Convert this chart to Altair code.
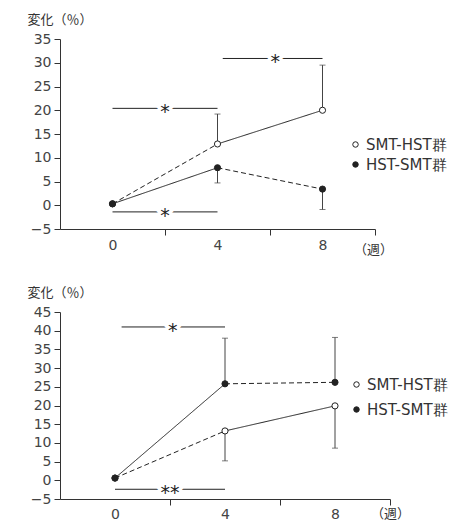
import altair as alt
import pandas as pd

weeks = [0, 4, 8]
series_names = ["SMT-HST群", "HST-SMT群"]

# ---- top panel ----
top_smt = [0.3, 12.9, 20.0]
top_hst = [0.3, 7.9, 3.4]
top_smt_err = [None, 19.2, 29.5]
top_hst_err = [None, 4.7, -0.9]
top_smt_dash = ["dashed", "solid"]
top_hst_dash = ["solid", "dashed"]
top_sig_x1 = [0, 4.2, 0]
top_sig_x2 = [4, 8, 4]
top_sig_xm = [2, 6.2, 2]
top_sig_y = [20.4, 30.9, -1.4]
top_sig_label = ["*", "*", "*"]

# ---- bottom panel ----
bot_smt = [0.6, 13.2, 19.9]
bot_hst = [0.6, 25.8, 26.2]
bot_smt_err = [None, 5.2, 8.6]
bot_hst_err = [None, 38.0, 38.2]
bot_smt_dash = ["dashed", "solid"]
bot_hst_dash = ["solid", "dashed"]
bot_sig_x1 = [0.24, 0]
bot_sig_x2 = [4, 4]
bot_sig_xm = [2.1, 2]
bot_sig_y = [41.0, -2.4]
bot_sig_label = ["*", "**"]

y_label = "変化（％）"
x_label = "（週）"

LATIN = "DejaVu Sans"
CJK = "Noto Sans CJK JP"
INK = "#222"


def panel(smt, hst, smt_err, hst_err, smt_dash, hst_dash,
          sx1, sx2, sxm, sy, slab, ymax, width, height,
          leg_x, leg_y, leg_pad, xt_x, xt_y, xlab_pad):
    pts, segs, errs = [], [], []
    for name, vals, err, dash in [(series_names[0], smt, smt_err, smt_dash),
                                  (series_names[1], hst, hst_err, hst_dash)]:
        for w, v, e in zip(weeks, vals, err):
            pts.append({"series": name, "week": w, "value": v})
            if e is not None:
                errs.append({"series": name, "week": w, "value": v, "end": e})
        for i in range(2):
            for j in (i, i + 1):
                segs.append({"seg": f"{name}-{i}", "dash": dash[i],
                             "week": weeks[j], "value": vals[j]})
    pts = pd.DataFrame(pts)
    segs = pd.DataFrame(segs)
    errs = pd.DataFrame(errs)
    sig = pd.DataFrame({"x1": sx1, "x2": sx2, "xm": sxm, "y": sy, "label": slab})

    xs = alt.Scale(domain=[-2, 10], nice=False, zero=False)
    ys = alt.Scale(domain=[-5, ymax], nice=False, zero=False)
    common = dict(domainColor="#333", tickColor="#333", tickSize=6, domainWidth=1,
                  tickWidth=1, labelFont=LATIN, labelFontSize=14, labelColor="#444",
                  labelOverlap=False, grid=False, tickCount=30, format="d")
    xaxis = alt.Axis(
        values=[0, 2, 4, 6, 8, 10],
        labelExpr="datum.value % 4 === 0 ? datum.label : ''",
        tickOpacity={"condition": {"test": "datum.value % 4 === 0", "value": 0}, "value": 1},
        title=x_label, titleX=xt_x, titleY=xt_y, titleAlign="center",
        titleBaseline="middle", titleFont=CJK, titleFontSize=13,
        titleFontWeight="normal", titleColor="#333", labelFlush=False,
        labelPadding=xlab_pad, **common)
    yaxis = alt.Axis(
        values=list(range(-5, ymax + 1, 5)),
        title=y_label, titleAngle=0, titleAlign="left", titleBaseline="middle",
        titleX=-33, titleY=-20, titleFont=CJK, titleFontSize=13,
        titleFontWeight="normal", titleColor="#333", labelPadding=3, **common)

    X = alt.X("week:Q", scale=xs, axis=xaxis)
    Y = alt.Y("value:Q", scale=ys, axis=yaxis)

    lines = alt.Chart(segs).mark_line(color=INK, strokeWidth=1).encode(
        x=X, y=Y, detail="seg:N",
        strokeDash=alt.StrokeDash("dash:N", scale=alt.Scale(
            domain=["solid", "dashed"], range=[[1, 0], [5, 3]]), legend=None))

    err_rule = alt.Chart(errs).mark_rule(color="#444", strokeWidth=1).encode(
        x="week:Q", y="value:Q", y2="end:Q")
    err_cap = alt.Chart(errs).mark_tick(orient="horizontal", size=6, thickness=1,
                                        color="#444").encode(x="week:Q", y="end:Q")

    points = alt.Chart(pts).mark_circle(size=38, stroke=INK, strokeWidth=1,
                                        opacity=1).encode(
        x="week:Q", y="value:Q",
        fill=alt.Fill("series:N", scale=alt.Scale(domain=series_names,
                                                  range=["white", INK]),
                      legend=alt.Legend(orient="none", legendX=leg_x, legendY=leg_y,
                                        title=None, symbolType="circle",
                                        symbolSize=30, symbolStrokeColor=INK,
                                        symbolStrokeWidth=1, labelFont=LATIN,
                                        labelFontSize=15, labelColor="#333",
                                        labelOffset=3, rowPadding=leg_pad)))

    sig_rule = alt.Chart(sig).mark_rule(color=INK, strokeWidth=1).encode(
        x="x1:Q", x2="x2:Q", y="y:Q")
    sig_halo = alt.Chart(sig).mark_text(font=LATIN, fontSize=19, baseline="middle",
                                        dy=4, fill="white", stroke="white",
                                        strokeWidth=6).encode(
        x="xm:Q", y="y:Q", text="label:N")
    sig_text = alt.Chart(sig).mark_text(font=LATIN, fontSize=19, baseline="middle",
                                        dy=4, fill=INK).encode(
        x="xm:Q", y="y:Q", text="label:N")

    return alt.layer(lines, err_rule, err_cap, sig_rule, sig_halo, sig_text,
                     points).properties(width=width, height=height)


top = panel(top_smt, top_hst, top_smt_err, top_hst_err, top_smt_dash, top_hst_dash,
            top_sig_x1, top_sig_x2, top_sig_xm, top_sig_y, top_sig_label,
            35, 315, 190, 288, 98, 4, 313, 20, 3)
bottom = panel(bot_smt, bot_hst, bot_smt_err, bot_hst_err, bot_smt_dash, bot_hst_dash,
               bot_sig_x1, bot_sig_x2, bot_sig_xm, bot_sig_y, bot_sig_label,
               45, 330, 187, 289, 65, 9, 330, 14, 2)

chart = alt.vconcat(top, bottom, spacing=30).resolve_scale(
    fill="independent", strokeDash="independent"
).resolve_legend(fill="independent").properties(
    padding={"left": 19, "top": 5, "right": 0, "bottom": 0}
).configure_view(stroke=None)

chart.save("out.html", embed_options={"renderer": "svg", "actions": False})
